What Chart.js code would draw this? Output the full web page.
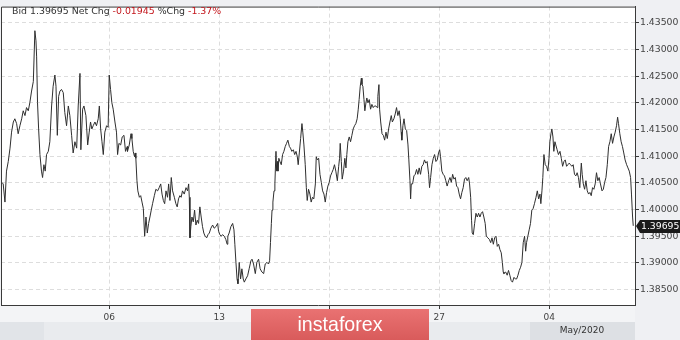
<!DOCTYPE html>
<html>
<head>
<meta charset="utf-8">
<script src="https://cdn.jsdelivr.net/npm/chart.js@4.4.1/dist/chart.umd.min.js"></script>
<style>
  html, body { margin: 0; padding: 0; background: #eff0f3; }
  #chart { display: block; }
</style>
</head>
<body>
<canvas id="chart" width="680" height="340"></canvas>
<script>
// trading days since Mon 30 Mar 2020 (5 per week)
const days = [
  0.11,0.18,0.26,0.33,0.41,0.49,0.56,0.64,0.71,0.79,0.86,0.94,1.02,1.09,1.17,1.24,1.32,1.39,1.47,1.55,
  1.62,1.67,1.70,1.74,1.79,1.85,1.92,1.97,2.03,2.09,2.15,2.23,2.30,2.38,2.45,2.53,2.58,2.64,2.70,2.76,
  2.83,2.91,2.98,3.06,3.14,3.21,3.29,3.36,3.44,3.52,3.59,3.67,3.71,3.79,3.85,3.94,4.02,4.09,4.15,4.21,
  4.27,4.35,4.42,4.50,4.55,4.61,4.67,4.73,4.80,4.88,4.95,5.00,5.06,5.12,5.18,5.26,5.33,5.38,5.44,5.52,
  5.59,5.67,5.74,5.82,
  5.83,5.91,5.99,6.03,6.09,6.15,6.18,6.21,6.26,6.30,6.37,6.43,6.49,6.55,6.61,6.67,6.73,6.79,6.85,6.91,
  6.97,7.05,7.12,7.20,7.27,7.34,7.40,7.46,7.52,7.58,7.65,7.70,7.76,7.82,7.88,7.96,8.03,8.09,8.15,8.21,
  8.27,8.33,8.41,8.49,8.56,8.61,8.64,8.67,8.71,8.76,8.82,8.88,8.94,9.00,9.06,9.12,9.18,9.24,9.30,9.36,
  9.43,9.49,9.55,9.62,9.70,9.77,9.85,9.93,9.97,10.03,10.09,10.15,10.23,10.30,10.36,10.39,10.45,10.53,10.61,10.67,
  10.71,10.76,10.81,10.85,10.91,10.97,11.03,11.09,11.14,11.21,11.29,11.36,11.44,
  11.49,11.56,11.64,11.71,11.79,11.86,11.94,12.02,12.09,12.17,12.24,12.29,12.33,12.37,12.40,12.44,12.49,12.53,12.58,12.61,
  12.64,12.67,12.71,12.76,12.82,12.88,12.94,13.00,13.06,13.12,13.19,13.24,13.30,13.37,13.43,13.49,13.55,13.59,13.64,13.70,
  13.76,13.80,13.85,13.91,13.96,14.00,14.06,14.12,14.18,14.24,14.30,14.37,14.41,14.46,14.52,14.58,14.64,14.70,14.76,14.82,
  14.88,14.94,15.00,15.06,15.12,15.18,15.24,15.30,15.37,15.43,15.47,15.50,15.55,15.59,15.65,15.71,15.76,15.80,15.85,15.91,
  15.97,16.03,16.09,16.15,16.21,16.27,16.32,16.36,16.41,16.46,16.49,16.53,16.58,16.62,16.67,16.71,16.76,16.82,16.88,16.94,
  17.00,17.06,17.12,17.18,
  17.21,17.26,17.29,17.34,17.40,17.46,17.52,17.58,17.64,17.70,17.76,17.82,17.87,17.94,18.00,18.06,18.12,18.18,18.23,18.27,
  18.30,18.35,18.40,18.46,18.52,18.58,18.62,18.67,18.70,18.73,18.79,18.85,18.91,18.97,19.03,19.09,19.15,19.21,19.27,19.33,
  19.39,19.45,19.52,19.56,19.61,19.67,19.73,19.79,19.85,19.91,19.97,20.02,20.06,20.12,20.18,20.24,20.30,20.36,20.43,20.49,
  20.55,20.61,20.67,20.73,20.79,20.85,20.91,20.97,21.03,21.09,21.15,21.21,21.27,21.34,21.38,21.43,21.47,21.50,21.55,21.61,
  21.67,21.73,21.79,21.85,21.91,21.97,22.03,22.09,22.14,22.21,22.28,22.34,22.40,22.46,22.52,22.58,22.64,22.70,22.76,22.82,
  22.87,22.91,
  22.94,23.02,23.09,23.15,23.21,23.27,23.33,23.40,23.46,23.52,23.58,23.64,23.70,23.76,23.82,23.88,23.93,23.97,24.03,24.09,
  24.15,24.21,24.27,24.33,24.40,24.46,24.52,24.58,24.62,24.67,24.71,24.76,24.82,24.88,24.94,24.99,25.03,25.08,25.12,25.17,
  25.21,25.26,25.30,25.36,25.42,25.49,25.55,25.61,25.67,25.73,25.79,25.85,25.91,25.97,26.03,26.09,26.15,26.21,26.27,26.33,
  26.39,26.46,26.50,26.55,26.61,26.67,26.73,26.79,26.85,26.91,26.97,27.03,27.09,27.15,27.21,27.27,27.33,27.40,27.46,27.52,
  27.58,27.64,27.70,27.76,27.82,27.88,27.94,28.00,28.06,28.11,28.15,28.21,28.27,28.33,28.39,28.45,28.52,28.58,28.64,28.70,
  28.74,28.79,28.82
];
const bid = [
  1.4051,1.4048,1.4014,1.4072,1.4090,1.4115,1.4145,1.4164,1.4170,1.4161,1.4142,1.4157,1.4170,1.4185,1.4176,1.4191,1.4185,1.4200,1.4222,1.4240,
  1.4335,1.4316,1.4286,1.4200,1.4151,1.4103,1.4072,1.4060,1.4084,1.4072,1.4103,1.4109,1.4127,1.4194,1.4231,1.4252,1.4231,1.4139,1.4212,1.4222,
  1.4225,1.4219,1.4182,1.4157,1.4194,1.4176,1.4139,1.4106,1.4127,1.4115,1.4194,1.4255,1.4112,1.4188,1.4194,1.4176,1.4121,1.4145,1.4164,1.4151,
  1.4157,1.4164,1.4157,1.4170,1.4194,1.4151,1.4127,1.4103,1.4145,1.4157,1.4154,1.4252,1.4225,1.4200,1.4188,1.4164,1.4145,1.4103,1.4124,1.4121,
  1.4136,1.4139,1.4109,1.4118,
  1.4109,1.4121,1.4142,1.4133,1.4109,1.4099,1.4106,1.4096,1.4054,1.4035,1.4023,1.4026,1.4014,1.4002,1.3950,1.3986,1.3956,1.3974,1.3986,1.3999,
  1.4011,1.4026,1.4038,1.4035,1.4041,1.4048,1.4029,1.4017,1.4011,1.4035,1.4023,1.4048,1.4017,1.4060,1.4035,1.4023,1.4011,1.4005,1.4020,1.4026,
  1.4023,1.4035,1.4029,1.4041,1.4035,1.4048,1.4023,1.3947,1.3968,1.3986,1.3977,1.3999,1.3971,1.3980,1.3974,1.4005,1.3986,1.3968,1.3956,1.3950,
  1.3947,1.3953,1.3956,1.3965,1.3971,1.3965,1.3968,1.3974,1.3959,1.3953,1.3950,1.3953,1.3950,1.3944,1.3935,1.3950,1.3956,1.3968,1.3974,1.3962,
  1.3935,1.3901,1.3870,1.3861,1.3901,1.3870,1.3889,1.3870,1.3864,1.3870,1.3876,1.3889,1.3904,
  1.3907,1.3898,1.3880,1.3901,1.3907,1.3889,1.3883,1.3880,1.3898,1.3901,1.3898,1.3904,1.3938,1.3974,1.3999,1.4014,1.4035,1.4048,1.4109,1.4072,
  1.4090,1.4072,1.4096,1.4090,1.4084,1.4103,1.4109,1.4118,1.4124,1.4130,1.4118,1.4115,1.4109,1.4112,1.4103,1.4109,1.4099,1.4084,1.4106,1.4133,
  1.4161,1.4145,1.4121,1.4084,1.4041,1.4017,1.4038,1.4029,1.4014,1.4023,1.4020,1.4048,1.4099,1.4093,1.4096,1.4066,1.4051,1.4035,1.4029,1.4014,
  1.4032,1.4044,1.4051,1.4063,1.4069,1.4075,1.4084,1.4072,1.4054,1.4081,1.4096,1.4124,1.4090,1.4057,1.4072,1.4096,1.4078,1.4103,1.4127,1.4136,
  1.4127,1.4139,1.4151,1.4157,1.4161,1.4170,1.4188,1.4206,1.4231,1.4246,1.4234,1.4231,1.4206,1.4185,1.4200,1.4209,1.4200,1.4206,1.4188,1.4197,
  1.4191,1.4194,1.4194,1.4191,
  1.4212,1.4234,1.4188,1.4164,1.4142,1.4139,1.4130,1.4145,1.4133,1.4151,1.4164,1.4176,1.4164,1.4170,1.4179,1.4191,1.4176,1.4185,1.4170,1.4145,
  1.4130,1.4157,1.4170,1.4151,1.4148,1.4121,1.4093,1.4054,1.4020,1.4048,1.4048,1.4063,1.4066,1.4075,1.4066,1.4078,1.4066,1.4081,1.4084,1.4093,
  1.4087,1.4090,1.4066,1.4041,1.4060,1.4084,1.4096,1.4103,1.4090,1.4093,1.4106,1.4112,1.4099,1.4072,1.4066,1.4063,1.4054,1.4044,1.4054,1.4060,
  1.4051,1.4066,1.4057,1.4060,1.4044,1.4041,1.4029,1.4020,1.4032,1.4041,1.4057,1.4060,1.4054,1.4060,1.4048,1.4023,1.3980,1.3956,1.3953,1.3974,
  1.3993,1.3986,1.3993,1.3986,1.3993,1.3996,1.3986,1.3974,1.3950,1.3947,1.3944,1.3938,1.3947,1.3935,1.3947,1.3950,1.3931,1.3935,1.3925,1.3919,
  1.3901,1.3883,
  1.3880,1.3883,1.3877,1.3886,1.3877,1.3867,1.3864,1.3873,1.3870,1.3870,1.3877,1.3886,1.3892,1.3901,1.3938,1.3950,1.3922,1.3938,1.3950,1.3962,
  1.3974,1.3999,1.4002,1.4011,1.4023,1.4035,1.4020,1.4029,1.4011,1.4035,1.4060,1.4103,1.4084,1.4081,1.4072,1.4096,1.4127,1.4142,1.4151,1.4136,
  1.4109,1.4127,1.4121,1.4112,1.4103,1.4109,1.4096,1.4081,1.4090,1.4093,1.4081,1.4084,1.4087,1.4084,1.4081,1.4084,1.4066,1.4063,1.4069,1.4060,
  1.4041,1.4087,1.4066,1.4048,1.4038,1.4054,1.4035,1.4029,1.4032,1.4026,1.4041,1.4038,1.4048,1.4069,1.4054,1.4060,1.4048,1.4035,1.4038,1.4051,
  1.4060,1.4084,1.4118,1.4127,1.4142,1.4124,1.4136,1.4145,1.4157,1.4173,1.4161,1.4142,1.4127,1.4118,1.4106,1.4093,1.4084,1.4078,1.4072,1.4060,
  1.4029,1.3986,1.39695
];

const dayTicks = [5, 10, 15, 20, 25];
const dayLabels = ['06', '13', '20', '27', '04'];
const priceTicks = [1.385, 1.39, 1.395, 1.40, 1.405, 1.41, 1.415, 1.42, 1.425, 1.43, 1.435];

const lastBid = 1.39695;
const netChg = '-0.01945';
const pctChg = '-1.37%';
const monthLabel = 'May/2020';

const FONT = '"DejaVu Sans", Verdana, sans-serif';

const panelPlugin = {
  id: 'panel',
  beforeDraw(chart) {
    const { ctx, chartArea: a, width, height } = chart;
    ctx.save();
    ctx.fillStyle = '#eff0f3';
    ctx.fillRect(0, 0, width, height);
    ctx.fillStyle = '#f3f4f6';
    ctx.fillRect(0, a.bottom, a.right, height - a.bottom);
    ctx.fillStyle = '#e9ebee';
    ctx.fillRect(0, 322, a.right, height - 322);
    ctx.fillStyle = '#e1e4e8';
    ctx.fillRect(0, 322, 44, height - 322);
    ctx.fillStyle = '#ffffff';
    ctx.fillRect(a.left, a.top, a.right - a.left, a.bottom - a.top);
    ctx.restore();
  },
  afterDraw(chart) {
    const { ctx, chartArea: a, width, height } = chart;
    ctx.save();

    // frame: top and left edges (bottom/right come from the axes)
    ctx.strokeStyle = '#3a3a3a';
    ctx.lineWidth = 1;
    ctx.beginPath();
    ctx.moveTo(a.left + 0.5, a.bottom);
    ctx.lineTo(a.left + 0.5, a.top + 0.5);
    ctx.lineTo(a.right, a.top + 0.5);
    ctx.stroke();

    // header
    ctx.font = '9.4px ' + FONT;
    ctx.textBaseline = 'alphabetic';
    let x = 12;
    const parts = [
      ['Bid ' + lastBid.toFixed(5) + ' Net Chg ', '#333333'],
      [netChg, '#c3161c'],
      [' %Chg ', '#333333'],
      [pctChg, '#c3161c']
    ];
    parts.forEach(function(p) {
      ctx.fillStyle = p[1];
      ctx.fillText(p[0], x, 14);
      x += ctx.measureText(p[0]).width;
    });

    // last price tag on the axis
    const yScale = chart.scales.y;
    const py = Math.round(yScale.getPixelForValue(lastBid));
    ctx.fillStyle = '#1a1a1a';
    ctx.beginPath();
    ctx.moveTo(a.right + 1, py);
    ctx.lineTo(a.right + 5, py - 6);
    ctx.lineTo(width, py - 6);
    ctx.lineTo(width, py + 7);
    ctx.lineTo(a.right + 5, py + 7);
    ctx.closePath();
    ctx.fill();
    ctx.fillStyle = '#ffffff';
    ctx.font = '9.3px ' + FONT;
    ctx.textBaseline = 'middle';
    ctx.fillText(lastBid.toFixed(5), a.right + 6, py + 1);

    // month box
    ctx.fillStyle = '#dde0e4';
    ctx.fillRect(530, 322, a.right - 530, height - 322);
    ctx.fillStyle = '#333333';
    ctx.font = '9px ' + FONT;
    ctx.textAlign = 'center';
    ctx.fillText(monthLabel, 582, 331);

    // watermark badge
    const g = ctx.createLinearGradient(0, 309, 0, 340);
    g.addColorStop(0, '#e97272');
    g.addColorStop(1, '#d95b5b');
    ctx.fillStyle = g;
    ctx.fillRect(251, 309, 178, 31);
    ctx.fillStyle = '#ffffff';
    ctx.font = '21px "Liberation Sans Narrow", "Liberation Sans", sans-serif';
    ctx.textBaseline = 'middle';
    const w = ctx.measureText('instaforex').width;
    ctx.save();
    ctx.translate(340, 325);
    ctx.scale(85 / w, 1);
    ctx.fillText('instaforex', 0, 0);
    ctx.restore();

    ctx.restore();
  }
};

const ctx = document.getElementById('chart').getContext('2d');
const myChart = new Chart(ctx, {
  type: 'line',
  data: {
    datasets: [{
      label: 'Bid',
      data: days.map(function(d, i) { return { x: d, y: bid[i] }; }),
      borderColor: '#2f2f2f',
      borderWidth: 1,
      pointRadius: 0,
      fill: false,
      tension: 0
    }]
  },
  options: {
    responsive: false,
    animation: false,
    layout: { padding: { left: 1, top: 0, right: 0, bottom: 0 } },
    plugins: { legend: { display: false }, tooltip: { enabled: false } },
    scales: {
      x: {
        type: 'linear',
        position: 'bottom',
        min: 0.08,
        max: 28.9,
        afterBuildTicks: function(scale) {
          scale.ticks = dayTicks.map(function(v) { return { value: v }; });
        },
        afterFit: function(scale) { scale.height = 35; },
        ticks: {
          autoSkip: false,
          maxRotation: 0,
          padding: 3,
          color: '#444',
          font: { family: FONT, size: 9 },
          callback: function(v, i) { return dayLabels[i]; }
        },
        grid: { color: '#dddddd', tickColor: '#3a3a3a', tickLength: 4, lineWidth: 1 },
        border: { display: true, color: '#3a3a3a', dash: [4, 3] }
      },
      y: {
        position: 'right',
        min: 1.38212,
        max: 1.43802,
        afterBuildTicks: function(scale) {
          scale.ticks = priceTicks.map(function(v) { return { value: v }; });
        },
        afterFit: function(scale) { scale.width = 45; },
        ticks: {
          padding: 1,
          color: '#444',
          font: { family: FONT, size: 9.3 },
          callback: function(v) { return v.toFixed(5); }
        },
        grid: { color: '#dddddd', tickColor: '#3a3a3a', tickLength: 4, lineWidth: 1 },
        border: { display: true, color: '#3a3a3a', dash: [4, 3] }
      }
    }
  },
  plugins: [panelPlugin]
});
</script>
</body>
</html>
